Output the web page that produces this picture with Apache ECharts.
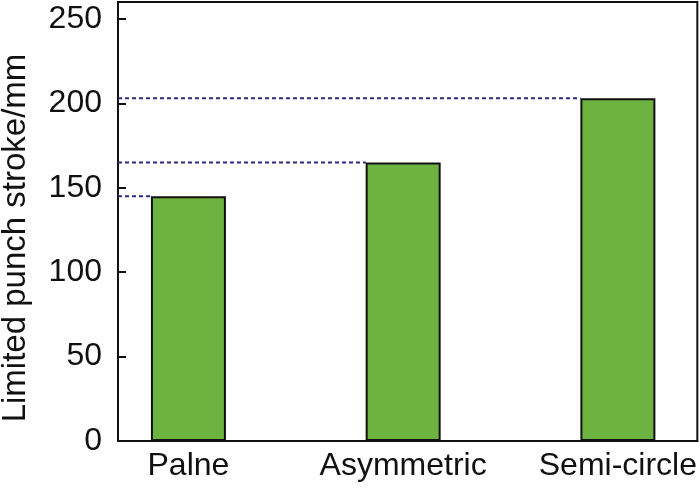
<!DOCTYPE html>
<html>
<head>
<meta charset="utf-8">
<script src="https://cdn.jsdelivr.net/npm/echarts@6/dist/echarts.min.js"></script>
<style>
  html, body { margin: 0; padding: 0; background: #fff; }
  #chart { width: 700px; height: 488px; }
</style>
</head>
<body>
<div id="chart"></div>
<script>
// 数据
const categories = ['Palne', 'Asymmetric', 'Semi-circle'];
const positions = [1, 2, 3];
const strokeValues = [145, 165, 203];
const yTicks = [0, 50, 100, 150, 200, 250];

// x轴范围 (类别位置)
const xMin = 0.672;
const xMax = 3.37;
const barHalf = 0.174; // 柱子半宽 (x轴单位)

const chart = echarts.init(document.getElementById('chart'));

// 虚线: 从y轴到柱子左边
const guideSeries = strokeValues.map(function (v, i) {
    return {
        type: 'line',
        symbol: 'none',
        silent: true,
        z: 1,
        lineStyle: { color: '#2a2a80', width: 2, type: [4, 3] },
        data: [[xMin, v], [positions[i] - barHalf, v]]
    };
});

const option = {
    animation: false,
    grid: {
        left: 118, top: 2, right: 2, bottom: 47,
        show: true,
        borderColor: '#111',
        borderWidth: 2
    },
    xAxis: {
        type: 'value',
        min: xMin,
        max: xMax,
        splitLine: { show: false },
        axisLine: { show: true, lineStyle: { color: '#111', width: 2 } },
        axisTick: { show: false },
        axisLabel: {
            customValues: positions,
            formatter: function (v) { return categories[positions.indexOf(Math.round(v))] || ''; },
            color: '#111',
            fontFamily: 'Liberation Sans',
            fontSize: 32,
            margin: 9
        }
    },
    yAxis: {
        type: 'value',
        min: 0,
        max: 260,
        interval: 50,
        splitLine: { show: false },
        axisLine: { show: true, lineStyle: { color: '#111', width: 2 } },
        axisTick: { show: true, inside: true, length: 8, lineStyle: { color: '#111', width: 2 } },
        axisLabel: {
            formatter: function (v) { return yTicks.indexOf(v) >= 0 ? String(v) : ''; },
            color: '#111',
            fontFamily: 'Liberation Sans',
            fontSize: 32,
            margin: 16
        }
    },
    graphic: [{
        type: 'text',
        x: 16,
        y: 238,
        rotation: Math.PI / 2,
        style: {
            text: 'Limited punch stroke/mm',
            fill: '#111',
            font: '33px "Liberation Sans"',
            align: 'center',
            verticalAlign: 'middle'
        }
    }],
    series: [{
        type: 'bar',
        barWidth: 75,
        z: 3,
        itemStyle: { color: '#6db33f', borderColor: '#111', borderWidth: 2 },
        data: positions.map(function (p, i) { return [p, strokeValues[i]]; })
    }].concat(guideSeries)
};

chart.setOption(option);
</script>
</body>
</html>
